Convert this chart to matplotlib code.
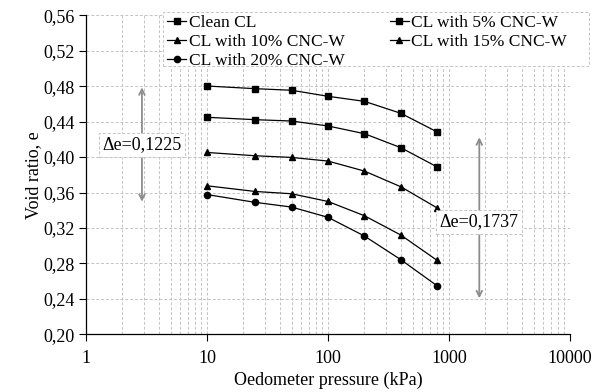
import matplotlib
matplotlib.use("Agg")
import matplotlib.pyplot as plt
from matplotlib.patches import Rectangle
from matplotlib.ticker import FixedLocator, FixedFormatter, LogLocator, NullFormatter

pressure = [10, 25, 50, 100, 200, 400, 800]
clean_cl = [0.4802, 0.4772, 0.4754, 0.4686, 0.4629, 0.4494, 0.4283]
cl_5 = [0.4449, 0.4422, 0.4407, 0.4351, 0.4264, 0.4106, 0.3888]
cl_10 = [0.4052, 0.4015, 0.3996, 0.3955, 0.3842, 0.3665, 0.3425]
cl_15 = [0.3676, 0.3612, 0.3586, 0.3499, 0.3338, 0.3120, 0.2833]
cl_20 = [0.3577, 0.3489, 0.3436, 0.3320, 0.3109, 0.2842, 0.2546]

y_ticks = [0.20, 0.24, 0.28, 0.32, 0.36, 0.40, 0.44, 0.48, 0.52, 0.56]
y_tick_labels = ["0,20", "0,24", "0,28", "0,32", "0,36", "0,40", "0,44", "0,48", "0,52", "0,56"]
x_ticks = [1, 10, 100, 1000, 10000]
x_tick_labels = ["1", "10", "100", "1000", "10000"]

delta1_label = "\u0394e=0,1225"
delta1_x = 2.9
delta1_range = (0.4787, 0.3496)
delta1_text_y = 0.414
delta2_label = "\u0394e=0,1737"
delta2_x = 1780
delta2_range = (0.4223, 0.2406)
delta2_text_y = 0.327

plt.rcParams['font.family'] = ['Liberation Serif', 'DejaVu Serif']

W, H = 593, 392
fig = plt.figure(figsize=(W/100, H/100), dpi=100)
ax = fig.add_axes([86/W, 1-334.3/H, (570-86)/W, (334.3-15.3)/H])

ax.set_xscale('log')
ax.set_xlim(1, 10000)
ax.set_ylim(0.20, 0.56)

grid_kw = dict(color='#c4c4c4', linestyle=(0, (3, 2)), linewidth=0.7)
ax.grid(True, which='major', axis='both', **grid_kw)
ax.xaxis.set_minor_locator(LogLocator(base=10, subs=range(2, 10), numticks=20))
ax.xaxis.set_minor_formatter(NullFormatter())
ax.grid(True, which='minor', axis='x', **grid_kw)
ax.set_axisbelow(True)

ms = 4.5
series = [
    (clean_cl, 's', "Clean CL", ms),
    (cl_5, 's', "CL with 5% CNC-W", ms),
    (cl_10, '^', "CL with 10% CNC-W", ms + 0.5),
    (cl_15, '^', "CL with 15% CNC-W", ms + 0.5),
    (cl_20, 'o', "CL with 20% CNC-W", ms),
]
handles = {}
for vals, mk, lab, m in series:
    h, = ax.plot(pressure, vals, color='black', linewidth=0.9, marker=mk,
                 markersize=m, label=lab, zorder=3)
    handles[lab] = h

ax.yaxis.set_major_locator(FixedLocator(y_ticks))
ax.yaxis.set_major_formatter(FixedFormatter(y_tick_labels))
ax.xaxis.set_major_locator(FixedLocator(x_ticks))
ax.xaxis.set_major_formatter(FixedFormatter(x_tick_labels))

for s in ['top', 'right']:
    ax.spines[s].set_visible(False)
for s in ['left', 'bottom']:
    ax.spines[s].set_linewidth(0.9)
ax.tick_params(axis='both', which='major', direction='out', length=5, width=0.8,
               labelsize=13, pad=3)
ax.tick_params(axis='x', which='minor', length=0)
ax.tick_params(axis='x', which='major', pad=6)

ax.set_xlabel("Oedometer pressure (kPa)", fontsize=13, labelpad=4)
ax.set_ylabel("Void ratio, e", fontsize=13, labelpad=1)

arrow_color = '#8c8c8c'
for xx, (y0, y1), lab, ty in [(delta1_x, delta1_range, delta1_label, delta1_text_y),
                              (delta2_x, delta2_range, delta2_label, delta2_text_y)]:
    ax.annotate("", xy=(xx, y0), xytext=(xx, y1),
                arrowprops=dict(arrowstyle='<->', color=arrow_color, lw=1.3,
                                mutation_scale=10, shrinkA=0, shrinkB=0), zorder=4)
    ax.text(xx, ty, lab, ha='center', va='center', fontsize=13, zorder=5,
            bbox=dict(boxstyle='square,pad=0.2', facecolor='white',
                      edgecolor='#c4c4c4', linestyle=(0, (3, 2)), linewidth=0.7))

# legend frame
frame = Rectangle((163/W, 1-65.7/H), (589-163)/W, (65.7-11.7)/H,
                  transform=fig.transFigure, facecolor='white', edgecolor='#c4c4c4',
                  linestyle=(0, (3, 2)), linewidth=0.7, zorder=5)
fig.add_artist(frame)

order = ["Clean CL", "CL with 10% CNC-W", "CL with 20% CNC-W",
         "CL with 5% CNC-W", "CL with 15% CNC-W"]
leg = fig.legend([handles[k] for k in order], order, ncol=2,
                 loc='upper left',
                 bbox_to_anchor=(167/W, 1-14.5/H),
                 fontsize=12.5, frameon=False,
                 handlelength=1.1, handletextpad=0.15, labelspacing=0.17,
                 borderpad=0.0, borderaxespad=0.0, columnspacing=2.6)
leg.set_zorder(6)

fig.savefig("out.png", dpi=100)
